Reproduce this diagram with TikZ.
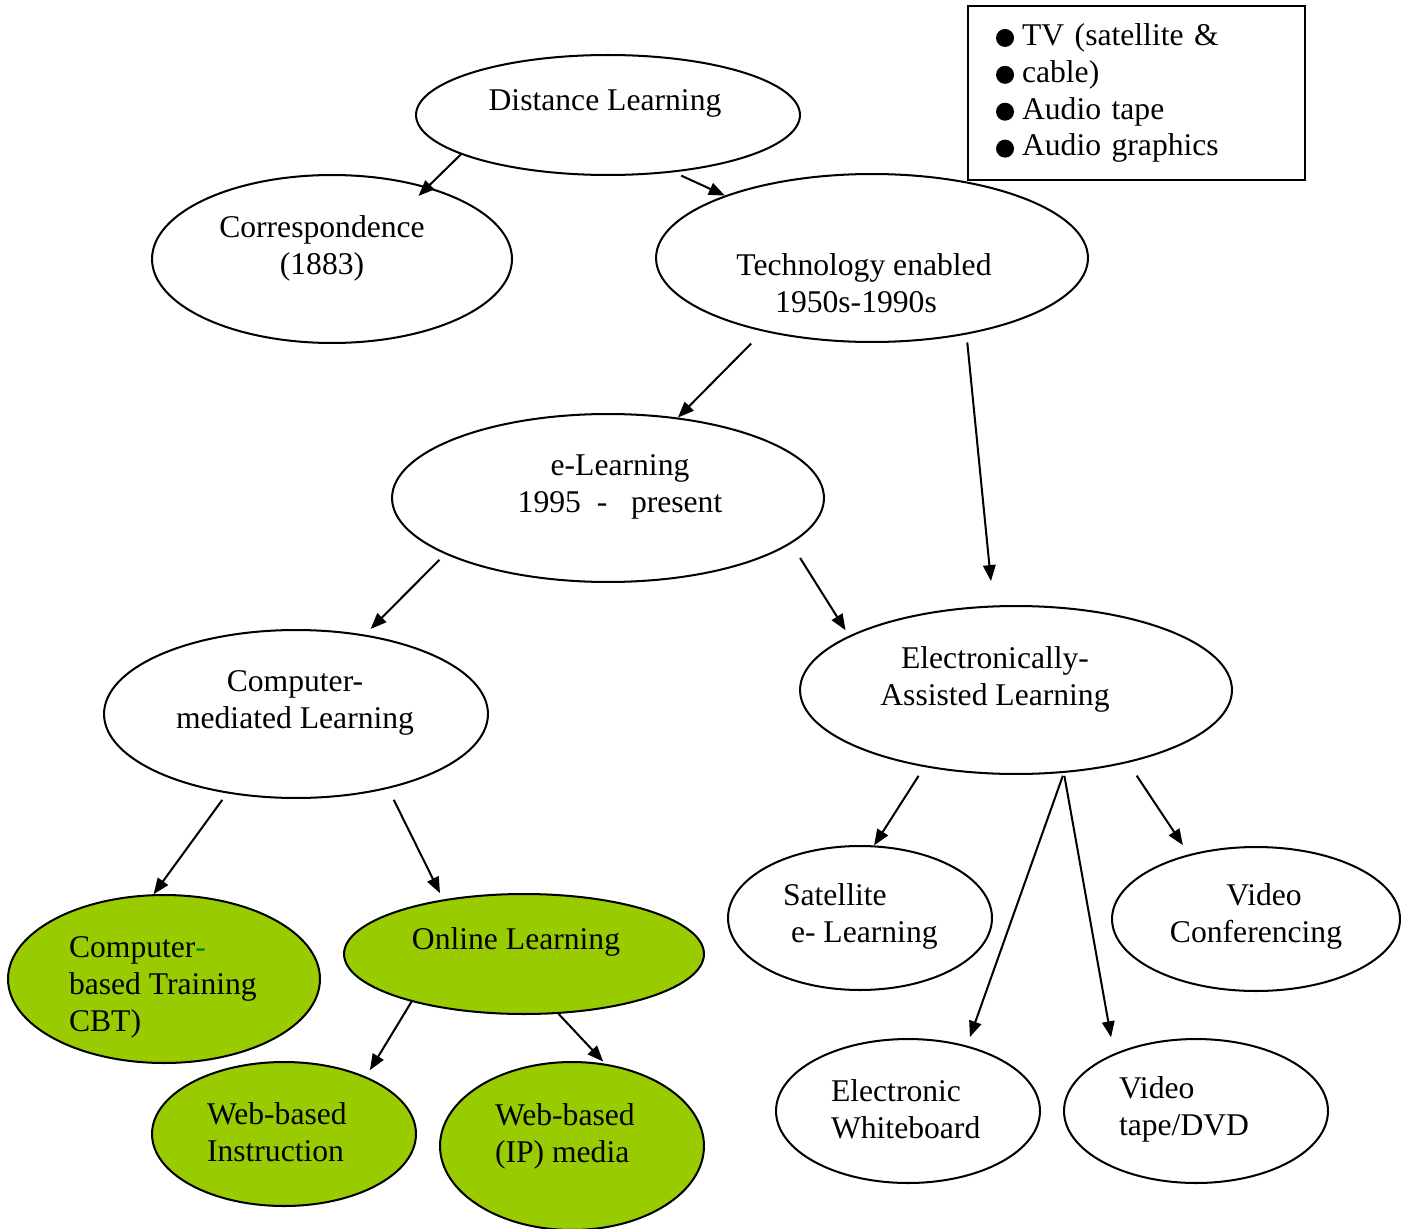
\documentclass[tikz,border=0pt]{standalone}
\usepackage{fontspec}
\setmainfont{Liberation Serif}
\usetikzlibrary{arrows.meta,shapes.geometric}
\definecolor{leaf}{RGB}{153,204,0}
\definecolor{hyphgreen}{RGB}{0,128,0}
\tikzset{oval/.style 2 args={shape=ellipse, draw, fill=white, inner sep=0pt,
    minimum width=#1, minimum height=#2}}
\tikzset{green oval/.style={fill=leaf}}
\tikzset{label text/.style={inner sep=0pt, align=center}}
\tikzset{link/.style={-{Triangle[length=0.32cm,width=0.25cm]}}}
\newcommand{\blob}{\tikz[baseline={-0.23em}]\fill (0,0) circle (0.18cm);}

\begin{document}
\begin{tikzpicture}[x=0.02cm, y=-0.02cm, line width=1.15pt]
    \tikzstyle{every node}=[font=\fontsize{18pt}{21pt}\selectfont]
    \useasboundingbox (0,0) rectangle (1408,1229);
    % ovals
    \node[oval={7.68cm}{2.4cm}] (dl) at (608,115) {};
    \node[oval={7.2cm}{3.36cm}] (corr) at (332,259) {};
    \node[oval={8.64cm}{3.36cm}] (tech) at (872,258) {};
    \node[oval={8.64cm}{3.36cm}] (el) at (608,498) {};
    \node[oval={7.68cm}{3.36cm}] (cml) at (296,714) {};
    \node[oval={8.64cm}{3.36cm}] (eal) at (1016,690) {};
    \node[oval={6.24cm}{3.36cm}, green oval] (cbt) at (164,979) {};
    \node[oval={7.2cm}{2.4cm}, green oval] (ol) at (524,954) {};
    \node[oval={5.28cm}{2.88cm}] (sat) at (860,918) {};
    \node[oval={5.76cm}{2.88cm}] (vc) at (1256,919) {};
    \node[oval={5.28cm}{2.88cm}] (ew) at (908,1111) {};
    \node[oval={5.28cm}{2.88cm}] (vt) at (1196,1111) {};
    \node[oval={5.28cm}{2.88cm}, green oval] (wbi) at (284,1134) {};
    \node[oval={5.28cm}{3.36cm}, green oval] (wbm) at (572,1146) {};
    % texts
    \node[label text] (dl-t) at (605,103) {Distance Learning};
    \node[label text] (corr-t) at (322,248) {Correspondence\\(1883)};
    \node[label text] (tech-t) at (864,283) {Technology enabled\\1950s-1990s\hspace*{0.32cm}};
    \node[label text] (el-t) at (620,487) {e-Learning\\1995\ \ -\ \ \ present};
    \node[label text] (cml-t) at (295,703) {Computer-\\mediated Learning};
    \node[label text] (eal-t) at (995,679) {Electronically-\\Assisted Learning};
    \node[label text, align=left, anchor=west] (cbt-t) at (68,987)
      {Computer{\color{hyphgreen}-}\\based Training\\CBT)};
    \node[label text] (ol-t) at (516,942) {Online Learning};
    \node[label text, align=left, anchor=west] (sat-t) at (782,916)
      {Satellite\\\hspace*{0.16cm}e- Learning};
    \node[label text] (vc-t) at (1256,916) {\hspace*{0.32cm}Video\\Conferencing};
    \node[label text, align=left, anchor=west] (ew-t) at (830,1109) {Electronic\\Whiteboard};
    \node[label text, align=left, anchor=west] (vt-t) at (1118,1109) {Video\\tape/DVD};
    \node[label text, align=left, anchor=west] (wbi-t) at (206,1132) {Web-based\\Instruction};
    \node[label text, align=left, anchor=west] (wbm-t) at (494,1136) {Web-based\\(IP) media};
    % media box
    \node[draw, rectangle, minimum height=3.48cm, inner xsep=0.56cm,
      text width=5.62cm, align=left] (media) at (1136.5,93)
      {\blob\hspace{0.16cm}TV (satellite \&\\
       \blob\hspace{0.16cm}cable)\\
       \blob\hspace{0.16cm}Audio tape\\
       \blob\hspace{0.16cm}Audio graphics};
    % arrows
    \path (dl.195) edge[link, shorten >=-0.26cm] (corr.37);
    \path (dl.319) edge[link, shorten <=0.16cm] (tech.157);
    \path (tech.214) edge[link, shorten <=0.34cm] (el.49);
    \path (tech.321) edge[link, shorten <=0.16cm, shorten >=0.49cm] (eal.105);
    \path (el.199) edge[link, shorten <=0.16cm, shorten >=0.16cm] (cml.49);
    \path (el.346) edge[link, shorten <=0.34cm, shorten >=0.13cm] (eal.162);
    \path (cml.229) edge[link, shorten <=0.16cm] (cbt.97);
    \path (cml.321) edge[link, shorten <=0.25cm, shorten >=0.14cm] (ol.146);
    \path (eal.220) edge[link, shorten <=0.21cm] (sat.79);
    \path (eal.300) edge[link, shorten <=0.06cm, shorten >=0.18cm] (ew.48);
    \path (eal.300) edge[link, shorten <=0.06cm, shorten >=0.33cm] (vt.145);
    \path (eal.327) edge[link, shorten <=0.31cm, shorten >=0.22cm] (vc.136);
    \path (ol.203) edge[link, shorten >=0.15cm] (wbi.35);
    \path (ol.300) edge[link, shorten >=0.06cm] (wbm.68);
\end{tikzpicture}
\end{document}
